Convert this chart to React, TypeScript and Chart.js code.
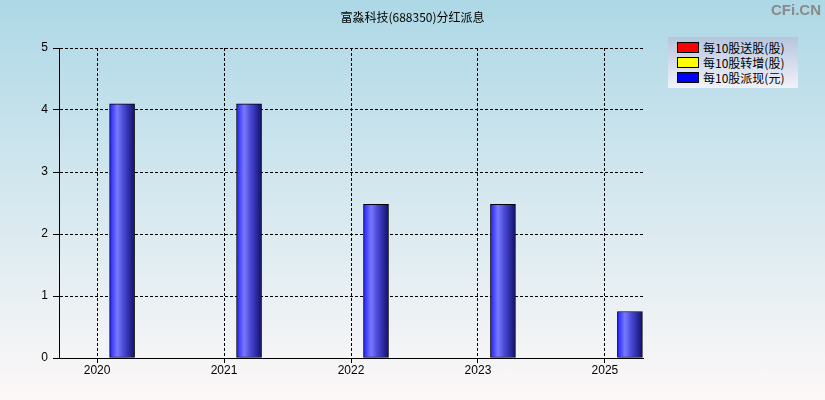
import { useEffect, useRef } from "react"
import { Chart, registerables, type ChartConfiguration, type Plugin } from "chart.js"

Chart.register(...registerables)

const title = "富淼科技(688350)分红派息"
const years = ["2020", "2021", "2022", "2023", "2025"]
const seriesNames = ["每10股送股(股)", "每10股转增(股)", "每10股派现(元)"]
const seriesColors = ["#ff0000", "#ffff00", "#0000ff"]
const bonusShares = [0, 0, 0, 0, 0]
const transferShares = [0, 0, 0, 0, 0]
const cashDividend = [4.1, 4.1, 2.48, 2.48, 0.75]
const yTicks = [0, 1, 2, 3, 4, 5]

const font = { family: "'Liberation Sans', Arial, sans-serif", size: 12 }

// paints the cash bars with the metallic blue gradient
const shadedBars: Plugin<"bar"> = {
  id: "shadedBars",
  beforeDatasetDraw(chart, args) {
    if (args.index !== 2) return
    const ctx = chart.ctx
    args.meta.data.forEach((bar: any) => {
      const { x, width } = bar.getProps(["x", "width"], true)
      const g = ctx.createLinearGradient(x - width / 2, 0, x + width / 2, 0)
      g.addColorStop(0, "#1e1eff")
      g.addColorStop(0.3, "#7a7aff")
      g.addColorStop(0.55, "#4a4ad8")
      g.addColorStop(1, "#10106e")
      const saved = bar.options
      bar.options = { ...saved, backgroundColor: g }
      bar.draw(ctx, chart.chartArea)
      bar.options = saved
    })
    return false
  },
}

export default function App() {
  const canvasRef = useRef<HTMLCanvasElement>(null)

  useEffect(() => {
    if (!canvasRef.current) return
    const values = [bonusShares, transferShares, cashDividend]
    const config: ChartConfiguration<"bar"> = {
      type: "bar",
      data: {
        datasets: values.map((vals, s) => ({
          label: seriesNames[s],
          data: vals.map((v, i) => ({ x: i, y: v })) as any,
          backgroundColor: seriesColors[s],
          borderColor: "#000000",
          borderWidth: 1,
          borderSkipped: false,
          barThickness: 25,
        })),
      },
      options: {
        responsive: false,
        animation: false,
        layout: { padding: { top: 48, right: 182, left: 0, bottom: 0 } },
        plugins: {
          legend: { display: false },
          title: { display: false },
          tooltip: { enabled: false },
        },
        scales: {
          x: {
            type: "linear",
            offset: false,
            min: -0.3,
            max: 4.3,
            afterFit: (scale) => {
              scale.height = 42
            },
            ticks: {
              stepSize: 1,
              includeBounds: false,
              autoSkip: false,
              maxRotation: 0,
              padding: 0,
              color: "#000000",
              font,
              callback: (v) => years[Number(v)] ?? "",
            },
            grid: { color: "#000000", lineWidth: 1, tickLength: 5, offset: false },
            border: { color: "#000000", width: 1, dash: [3, 2] },
          },
          y: {
            min: 0,
            max: 5,
            afterFit: (scale) => {
              scale.width = 59
            },
            afterBuildTicks: (scale) => {
              scale.ticks = yTicks.map((value) => ({ value }))
            },
            ticks: { padding: 5, color: "#000000", font },
            grid: { color: "#000000", lineWidth: 1, tickLength: 6 },
            border: { color: "#000000", width: 1, dash: [3, 2] },
          },
        },
      },
      plugins: [shadedBars],
    }
    const chart = new Chart(canvasRef.current, config)
    return () => chart.destroy()
  }, [])

  return (
    <div
      style={{
        position: "fixed",
        left: 0,
        top: 0,
        width: 825,
        height: 400,
        background: "linear-gradient(to bottom, #add8e6 0%, #d6e8ef 50%, #fdf8f8 100%)",
        fontFamily: "'Noto Sans CJK SC', sans-serif",
      }}
    >
      <canvas ref={canvasRef} width={825} height={400} style={{ position: "absolute", left: 0, top: 0 }} />
      <div
        style={{
          position: "absolute",
          left: 0,
          top: 9,
          width: 825,
          textAlign: "center",
          fontSize: 12,
          lineHeight: "16px",
          color: "#000",
        }}
      >
        {title}
      </div>
      <div
        style={{
          position: "absolute",
          right: 4,
          top: 1,
          fontFamily: "'Liberation Sans', Arial, sans-serif",
          fontWeight: "bold",
          fontSize: 15,
          color: "#8a8a8a",
        }}
      >
        CFi.CN
      </div>
      <div
        style={{
          position: "absolute",
          left: 668,
          top: 37,
          width: 130,
          height: 51,
          background: "linear-gradient(to bottom, #b6c5dd, #f2f2f9)",
        }}
      >
        {seriesNames.map((name, i) => (
          <div
            key={name}
            style={{
              position: "absolute",
              left: 9,
              top: 3 + i * 15,
              height: 15,
              display: "flex",
              alignItems: "center",
              fontSize: 12,
              whiteSpace: "nowrap",
              color: "#000",
            }}
          >
            <span
              style={{
                display: "inline-block",
                width: 20,
                height: 9,
                background: seriesColors[i],
                border: "1px solid #000",
                marginRight: 4,
              }}
            />
            {name}
          </div>
        ))}
      </div>
    </div>
  )
}
